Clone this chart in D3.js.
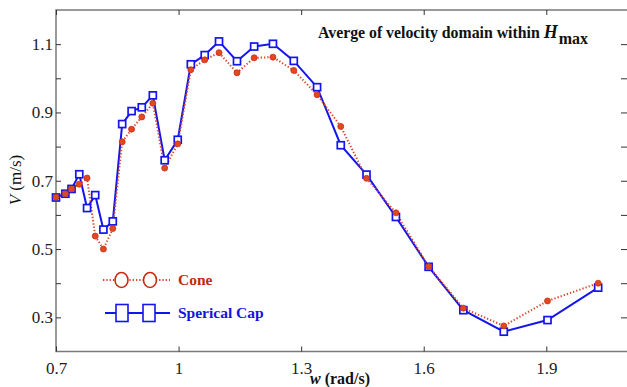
<!DOCTYPE html>
<html><head><meta charset="utf-8">
<script src="https://cdn.jsdelivr.net/npm/d3@7/dist/d3.min.js"></script>
<style>body{margin:0;background:#fff}svg{display:block}
svg text{font-family:"Liberation Serif","Times New Roman",Times,"Nimbus Roman","DejaVu Serif",serif;}</style>
</head><body>
<svg id="c" width="627" height="387"></svg>
<script>
const wValues = [0.700,0.723,0.738,0.757,0.776,0.796,0.816,0.839,0.862,0.885,0.910,0.937,0.966,0.998,1.030,1.064,1.099,1.143,1.185,1.231,1.282,1.339,1.397,1.460,1.532,1.612,1.697,1.796,1.903,2.027];
const coneValues = [0.652,0.662,0.676,0.690,0.708,0.538,0.500,0.560,0.814,0.851,0.887,0.927,0.737,0.808,1.025,1.054,1.075,1.016,1.060,1.062,1.023,0.952,0.859,0.707,0.606,0.449,0.327,0.275,0.348,0.400];
const capValues = [0.651,0.662,0.676,0.719,0.620,0.658,0.557,0.581,0.866,0.904,0.915,0.950,0.760,0.820,1.041,1.068,1.108,1.050,1.093,1.101,1.051,0.974,0.804,0.718,0.594,0.448,0.321,0.258,0.292,0.387];
const xTicks = [0.7,1,1.3,1.6,1.9];
const yTickLabels = [0.3,0.5,0.7,0.9,1.1];
const yTicksAll = [0.3,0.4,0.5,0.6,0.7,0.8,0.9,1.0,1.1];
const seriesNames = ["Cone","Sperical Cap"];

const svg = d3.select("#c");
const L=56, R=628, T=10, B=351.5;
const x = d3.scaleLinear().domain([0.7,2.1]).range([L,R]);
const y = d3.scaleLinear().domain([0.2,1.2]).range([B,T]);
const font = '"Liberation Serif","Times New Roman",Times,"Nimbus Roman","DejaVu Serif",serif';
const axisCol = "#7a7a7a";

svg.append("rect").attr("x",L).attr("y",T).attr("width",R-L).attr("height",B-T)
  .attr("fill","none").attr("stroke",axisCol).attr("stroke-width",1.5);

function styleAxis(g){
  g.attr("font-family",null).attr("font-size",null);
  g.select(".domain").remove();
  g.selectAll(".tick line").attr("stroke","#333").attr("stroke-width",1);
  g.selectAll(".tick text").style("font-family",font).style("font-size","17px").attr("fill","#222");
}
svg.append("g").attr("transform",`translate(0,${B})`)
  .call(d3.axisBottom(x).tickValues(xTicks).tickSize(-5).tickPadding(10).tickFormat(d3.format("~g")))
  .call(styleAxis);
svg.append("g").attr("transform",`translate(0,${T})`)
  .call(d3.axisTop(x).tickValues(xTicks).tickSize(-5).tickFormat(""))
  .call(styleAxis);
svg.append("g").attr("transform",`translate(${L},0)`)
  .call(d3.axisLeft(y).tickValues(yTicksAll).tickSize(-5).tickPadding(3)
    .tickFormat(d=>yTickLabels.some(v=>Math.abs(v-d)<1e-9)?d3.format("~g")(d):""))
  .call(styleAxis);
svg.append("g").attr("transform",`translate(${R-1},0)`)
  .call(d3.axisRight(y).tickValues(yTicksAll).tickSize(-6).tickFormat(""))
  .call(styleAxis);

const capData = wValues.map((w,i)=>({w,v:capValues[i]}));
const coneData = wValues.map((w,i)=>({w,v:coneValues[i]}));
const line = d3.line().x(d=>x(d.w)).y(d=>y(d.v));
const blue = "#1414ee", red = "#d8442a";

svg.append("path").datum(capData).attr("d",line).attr("fill","none")
  .attr("stroke",blue).attr("stroke-width",2);
svg.append("path").datum(coneData).attr("d",line).attr("fill","none")
  .attr("stroke",red).attr("stroke-width",2).attr("stroke-dasharray","1.3,2");
svg.selectAll(".sq").data(capData).enter().append("rect")
  .attr("x",d=>x(d.w)-3.5).attr("y",d=>y(d.v)-3.5).attr("width",7).attr("height",7)
  .attr("fill","#fff").attr("stroke",blue).attr("stroke-width",1.7);
svg.selectAll(".ci").data(coneData).enter().append("circle")
  .attr("cx",d=>x(d.w)).attr("cy",d=>y(d.v)).attr("r",3)
  .attr("fill","#e2481e").attr("stroke","#c8301a").attr("stroke-width",0.8);

const lg = svg.append("g");
lg.append("line").attr("x1",103).attr("x2",170).attr("y1",280).attr("y2",280)
  .attr("stroke",red).attr("stroke-width",2).attr("stroke-dasharray","1.3,2");
[121.5,150].forEach(cx=>lg.append("ellipse").attr("cx",cx).attr("cy",280).attr("rx",6.5).attr("ry",7.5)
  .attr("fill","#fff").attr("stroke","#c82a10").attr("stroke-width",1.6));
lg.append("text").attr("x",178).attr("y",285).text(seriesNames[0])
  .style("font-family",font).attr("font-weight","bold").attr("font-size","15.5px").attr("fill","#c02a0a");
lg.append("line").attr("x1",105).attr("x2",170).attr("y1",313).attr("y2",313)
  .attr("stroke",blue).attr("stroke-width",2);
[122,149].forEach(cx=>lg.append("rect").attr("x",cx-6).attr("y",304.5).attr("width",12).attr("height",17)
  .attr("fill","#fff").attr("stroke",blue).attr("stroke-width",1.6));
lg.append("text").attr("x",178).attr("y",318).text(seriesNames[1])
  .style("font-family",font).attr("font-weight","bold").attr("font-size","15.5px").attr("fill","#1414dd");

const t = svg.append("text").attr("x",318).attr("y",38)
  .style("font-family",font).attr("font-weight","bold").attr("font-size","15.8px").attr("fill","#111");
t.append("tspan").text("Averge of velocity domain within ");
t.append("tspan").attr("font-style","italic").attr("font-size","18px").text("H");
t.append("tspan").attr("dy",6).attr("dx",1).attr("font-size","16px").text("max");

const xl = svg.append("text").attr("x",340).attr("y",384).attr("text-anchor","middle")
  .style("font-family",font).attr("font-weight","bold").attr("font-size","16px").attr("fill","#111");
xl.append("tspan").attr("font-style","italic").text("w");
xl.append("tspan").text(" (rad/s)");
const yl = svg.append("text").attr("transform","translate(21,180) rotate(-90)").attr("text-anchor","middle")
  .style("font-family",font).attr("font-size","17px").attr("fill","#111");
yl.append("tspan").attr("font-style","italic").text("V");
yl.append("tspan").text(" (m/s)");
</script>
</body></html>
